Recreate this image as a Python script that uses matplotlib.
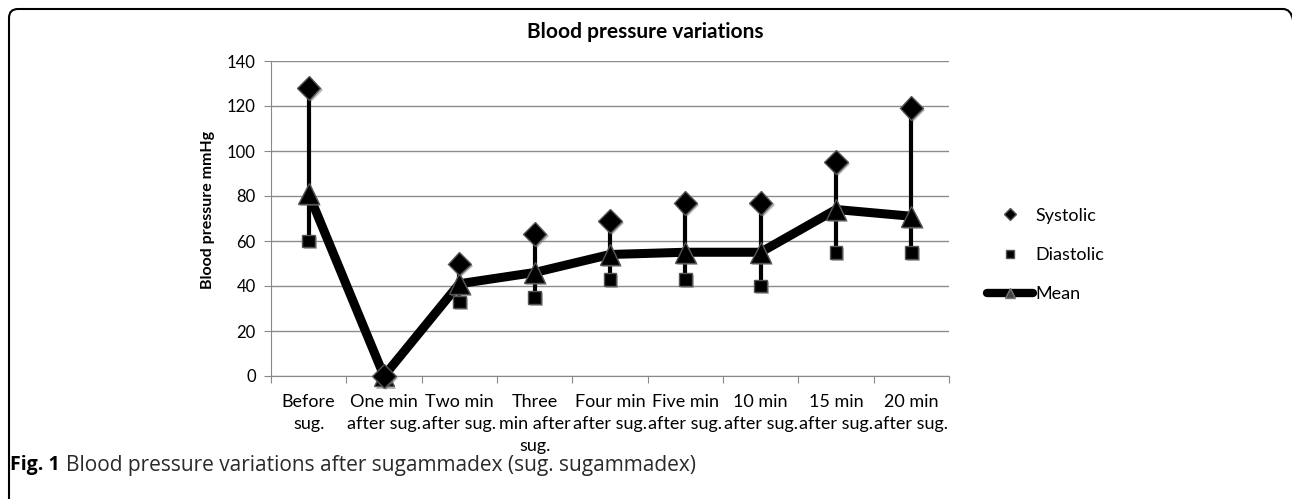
import matplotlib
matplotlib.use('Agg')
import matplotlib.pyplot as plt
import matplotlib.patheffects as pe
from matplotlib.patches import PathPatch
from matplotlib.path import Path
from matplotlib.lines import Line2D
from matplotlib.transforms import IdentityTransform

#%% data
categories=['Before\nsug.','One min\nafter sug.','Two min\nafter sug.','Three\nmin after\nsug.',
            'Four min\nafter sug.','Five min\nafter sug.','10 min\nafter sug.','15 min\nafter sug.','20 min\nafter sug.']
systolic=[128,0,50,63,69,77,77,95,119]
diastolic=[60,0,33,35,43,43,40,55,55]
mean=[81,0,41,46,54,55,55,74,71]
yticks=[0,20,40,60,80,100,120,140]

plt.rcParams['font.family']=['Lato','DejaVu Sans']

W,H=1292,499
fig=plt.figure(figsize=(W/100,H/100),dpi=100)
ax=fig.add_axes([271/W,1-376/H,678/W,315/H])

x=list(range(len(categories)))
shadow=[pe.SimplePatchShadow(offset=(1.5,-1.5),shadow_rgbFace='#777777',alpha=0.5),pe.Normal()]

#%% high-low lines, mean line, markers
ax.vlines(x,diastolic,systolic,colors='black',lw=3,zorder=3)
ax.plot(x,mean,color='black',lw=6.5,solid_capstyle='butt',zorder=4)
ax.plot(x,mean,ls='none',marker='^',ms=15,mfc='black',mec='#555555',mew=1,zorder=5,clip_on=False,path_effects=shadow)
ax.plot(x,diastolic,ls='none',marker='s',ms=9,mfc='black',mec='#555555',mew=1,zorder=6,clip_on=False,path_effects=shadow)
ax.plot(x,systolic,ls='none',marker='D',ms=12,mfc='black',mec='#555555',mew=1,zorder=6,clip_on=False,path_effects=shadow)

#%% axes
ax.set_xlim(-0.5,len(categories)-0.5)
ax.set_ylim(0,140)
ax.set_yticks(yticks)
ax.tick_params(axis='y',labelsize=12,length=5,color='#888888',pad=6)
ax.yaxis.grid(True,color='#8c8c8c',lw=1)
ax.set_axisbelow(True)
ax.set_xticks([i+0.5 for i in range(-1,len(categories))])
ax.set_xticklabels([])
ax.tick_params(axis='x',length=5,color='#888888')
ax.set_xticks(x,minor=True)
ax.set_xticklabels(categories,minor=True,fontsize=13,linespacing=1.45)
ax.tick_params(axis='x',which='minor',length=0,pad=13)
for s in ['top','right']:
    ax.spines[s].set_visible(False)
ax.spines['left'].set_color('#888888')
ax.spines['bottom'].set_color('#888888')
ax.set_ylabel('Blood pressure mmHg',fontweight='bold',fontsize=11.5)
ax.yaxis.set_label_coords(-0.082,0.527)
fig.text(645/W,1-32/H,'Blood pressure variations',fontweight='bold',fontsize=15,ha='center',va='center')

#%% legend
handles=[Line2D([],[],ls='none',marker='D',ms=6,mfc='black',mec='#555555'),
         Line2D([],[],ls='none',marker='s',ms=6,mfc='black',mec='#555555'),
         Line2D([],[],color='black',lw=6,solid_capstyle='round',marker='^',ms=7,mfc='#444444',mec='#777777')]
fig.legend(handles,['Systolic','Diastolic','Mean'],loc='center left',bbox_to_anchor=(978/W,1-255/H),
           frameon=False,fontsize=13,handlelength=2.55,handletextpad=0.15,labelspacing=1.3,borderpad=0)

#%% outer frame (pixel coords, only top and left edges fall inside the picture) and caption
verts=[(9,-5),(9,H-18),(9,H-9),(18,H-9),(1283,H-9),(1291,H-9),(1293,H-20)]
codes=[Path.MOVETO,Path.LINETO,Path.CURVE3,Path.CURVE3,Path.LINETO,Path.CURVE3,Path.CURVE3]
fig.patches.append(PathPatch(Path(verts,codes),transform=IdentityTransform(),fill=False,ec='black',lw=1.5))
t=fig.text(10/W,1-465/H,'Fig. 1',fontweight='bold',fontsize=14,va='center',family='Open Sans')
bb=t.get_window_extent(renderer=fig.canvas.get_renderer())
fig.text((bb.x1+6)/W,1-465/H,'Blood pressure variations after sugammadex (sug. sugammadex)',fontsize=15,va='center',family='Open Sans',color='#2a2a2a')

fig.savefig('out.png',dpi=100)
